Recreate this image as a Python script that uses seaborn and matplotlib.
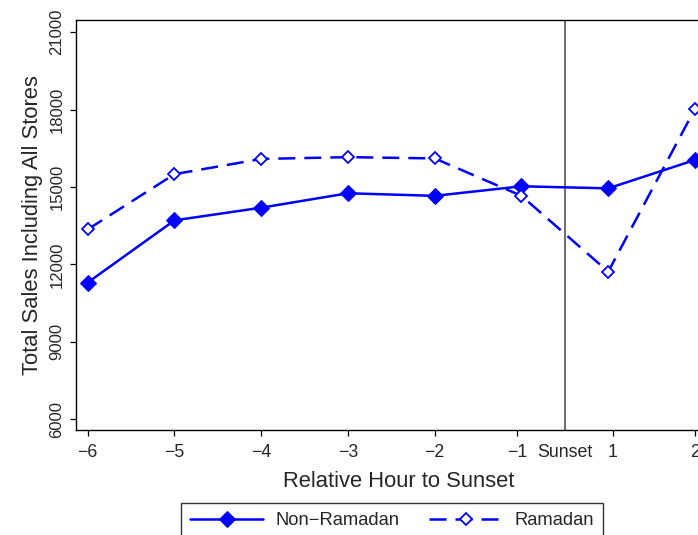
import numpy as np
import pandas as pd
import matplotlib
matplotlib.use('Agg')
import matplotlib.pyplot as plt
import seaborn as sns

# data
hours = [-6, -5, -4, -3, -2, -1, 1, 2]
non_ramadan = [11300, 13710, 14200, 14760, 14660, 15030, 14950, 16050]
ramadan = [13360, 15500, 16090, 16160, 16110, 14660, 11720, 18030]

tick_pos = [-6, -5, -4, -3, -2, -1.05, -0.5, 0.05, 1]
tick_labels = ['\u22126', '\u22125', '\u22124', '\u22123', '\u22122', '\u22121', 'Sunset', '1', '2']
y_ticks = [6000, 9000, 12000, 15000, 18000, 21000]

# no hour zero: hours after sunset are drawn one step closer
plot_x = [h if h < 0 else h - 1 for h in hours]
df = pd.DataFrame({'x': plot_x * 2,
                   'sales': non_ramadan + ramadan,
                   'group': ['Non\u2212Ramadan'] * len(hours) + ['Ramadan'] * len(hours)})

sns.set_style('ticks')
plt.rcParams['font.family'] = ['Liberation Sans', 'DejaVu Sans']

fig = plt.figure(figsize=(6.98, 5.35), dpi=100)
ax = fig.add_axes([0.1089, 0.1963, 0.924, 0.7664])

blue = '#0000ff'
sns.lineplot(data=df[df.group == 'Non\u2212Ramadan'], x='x', y='sales', color=blue,
             marker='D', markersize=8, markeredgecolor=blue, markerfacecolor=blue,
             linewidth=1.8, label='Non\u2212Ramadan', ax=ax)
sns.lineplot(data=df[df.group == 'Ramadan'], x='x', y='sales', color=blue,
             marker='D', markersize=6.5, markeredgecolor=blue, markerfacecolor='white',
             markeredgewidth=1.3, linewidth=1.8, linestyle=(0, (6.8, 3.6)),
             label='Ramadan', ax=ax)

ax.axvline(-0.5, color='#444444', linewidth=1.1, zorder=1)

ax.set_xlim(-6.135, 1.3)
ax.set_ylim(5585, 21477)
ax.set_xticks(tick_pos)
ax.set_xticklabels(tick_labels)
ax.set_yticks(y_ticks)
ax.set_yticklabels([str(v) for v in y_ticks])
ax.tick_params(axis='x', labelsize=12.8, length=4.3, width=0.9, pad=5.5, color='black')
ax.tick_params(axis='y', labelsize=12, length=4.3, width=0.9, pad=4, labelrotation=90, color='black')
for lab in ax.get_yticklabels():
    lab.set_va('center')
ax.xaxis.get_major_ticks()[6].tick1line.set_visible(False)

for s in ax.spines.values():
    s.set_color('black')
    s.set_linewidth(1.0)

ax.set_xlabel('Relative Hour to Sunset', fontsize=15.8, labelpad=7.5)
ax.set_ylabel('Total Sales Including All Stores', fontsize=15.8, labelpad=5)

handles, labels = ax.get_legend_handles_labels()
ax.get_legend().remove()
leg = fig.legend(handles, labels, loc='upper center', bbox_to_anchor=(0.5616, 0.0598),
                 ncol=2, fontsize=13.2, frameon=True, fancybox=False, edgecolor='black',
                 handlelength=4.0, handletextpad=0.66, columnspacing=1.6,
                 borderpad=0.5, borderaxespad=0)
leg.get_frame().set_linewidth(1.0)

fig.savefig('out.png', dpi=100)
